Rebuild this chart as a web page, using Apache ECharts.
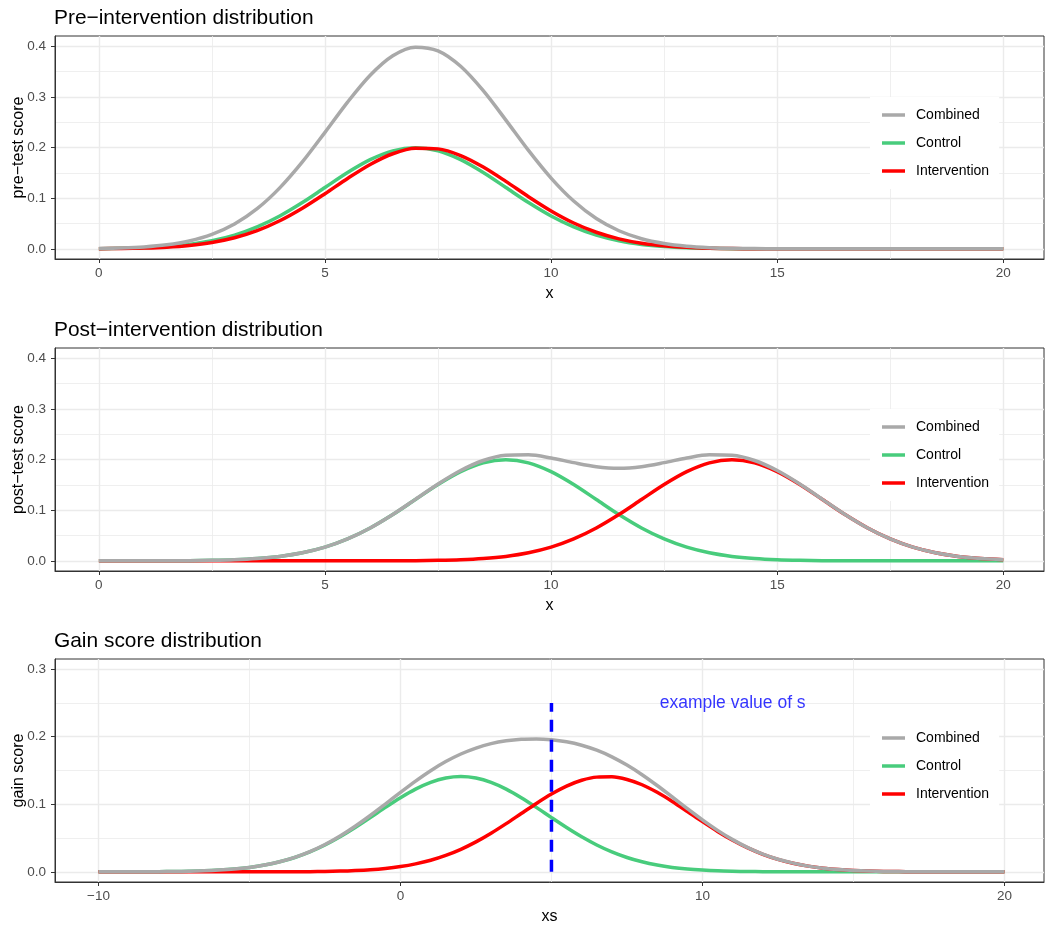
<!DOCTYPE html>
<html>
<head>
<meta charset="utf-8">
<script src="https://cdn.jsdelivr.net/npm/echarts@6/dist/echarts.min.js"></script>
<style>
html, body { margin: 0; padding: 0; background: #fff; }
#main { width: 1048px; height: 926px; }
</style>
</head>
<body>
<div id="main"></div>
<script>
// x grid of the first two panels
var xs1 = [0,0.5,1,1.5,2,2.5,3,3.5,4,4.5,5,5.5,6,6.5,7,7.5,8,8.5,9,9.5,10,10.5,11,11.5,12,12.5,13,13.5,14,14.5,15,15.5,16,16.5,17,17.5,18,18.5,19,19.5,20];
// pre-test
var preControl = [0.0004,0.0010,0.0022,0.0046,0.0088,0.0159,0.0270,0.0432,0.0648,0.0913,0.1210,0.1506,0.1760,0.1934,0.1995,0.1934,0.1760,0.1506,0.1210,0.0913,0.0648,0.0432,0.0270,0.0159,0.0088,0.0046,0.0022,0.0010,0.0004,0.0002,0,0,0,0,0,0,0,0,0,0,0];
var preIntervention = [0.0003,0.0007,0.0016,0.0034,0.0068,0.0126,0.0220,0.0360,0.0555,0.0802,0.1089,0.1390,0.1666,0.1877,0.1985,0.1973,0.1842,0.1615,0.1331,0.1030,0.0749,0.0511,0.0328,0.0198,0.0112,0.0060,0.0030,0.0014,0.0006,0.0003,0.0001,0,0,0,0,0,0,0,0,0,0];
var preCombined = [0.0007,0.0017,0.0038,0.0080,0.0156,0.0285,0.0490,0.0792,0.1203,0.1715,0.2299,0.2896,0.3426,0.3811,0.3980,0.3907,0.3602,0.3121,0.2541,0.1943,0.1397,0.0943,0.0598,0.0357,0.0200,0.0106,0.0052,0.0024,0.0010,0.0005,0.0002,0,0,0,0,0,0,0,0,0,0];
// post-test
var postControl = [0,0,0,0.0002,0.0004,0.0010,0.0022,0.0046,0.0088,0.0159,0.0270,0.0432,0.0648,0.0913,0.1210,0.1506,0.1760,0.1934,0.1995,0.1934,0.1760,0.1506,0.1210,0.0913,0.0648,0.0432,0.0270,0.0159,0.0088,0.0046,0.0022,0.0010,0.0004,0.0002,0,0,0,0,0,0,0];
var postIntervention = [0,0,0,0,0,0,0,0,0,0,0,0,0.0001,0.0002,0.0004,0.0010,0.0022,0.0046,0.0088,0.0159,0.0270,0.0432,0.0648,0.0913,0.1210,0.1506,0.1760,0.1934,0.1995,0.1934,0.1760,0.1506,0.1210,0.0913,0.0648,0.0432,0.0270,0.0159,0.0088,0.0046,0.0022];
var postCombined = [0,0,0,0.0002,0.0004,0.0010,0.0022,0.0046,0.0088,0.0159,0.0270,0.0432,0.0649,0.0915,0.1214,0.1516,0.1782,0.1980,0.2083,0.2093,0.2030,0.1938,0.1858,0.1826,0.1858,0.1938,0.2030,0.2093,0.2083,0.1980,0.1782,0.1516,0.1214,0.0915,0.0648,0.0432,0.0270,0.0159,0.0088,0.0046,0.0022];
// gain scores
var xs3 = [-10,-9.5,-9,-8.5,-8,-7.5,-7,-6.5,-6,-5.5,-5,-4.5,-4,-3.5,-3,-2.5,-2,-1.5,-1,-0.5,0,0.5,1,1.5,2,2.5,3,3.5,4,4.5,5,5.5,6,6.5,7,7.5,8,8.5,9,9.5,10,10.5,11,11.5,12,12.5,13,13.5,14,14.5,15,15.5,16,16.5,17,17.5,18,18.5,19,19.5,20];
var gainControl = [0,0,0.0001,0.0001,0.0003,0.0005,0.0009,0.0015,0.0026,0.0042,0.0066,0.0101,0.0149,0.0213,0.0296,0.0398,0.0519,0.0656,0.0803,0.0954,0.1098,0.1225,0.1325,0.1388,0.1410,0.1388,0.1325,0.1225,0.1098,0.0954,0.0803,0.0656,0.0519,0.0398,0.0296,0.0213,0.0149,0.0101,0.0066,0.0042,0.0026,0.0015,0.0009,0.0005,0.0003,0.0001,0.0001,0,0,0,0,0,0,0,0,0,0,0,0,0,0];
var gainIntervention = [0,0,0,0,0,0,0,0,0,0,0,0,0.0001,0.0001,0.0003,0.0006,0.0011,0.0019,0.0031,0.0050,0.0078,0.0118,0.0172,0.0244,0.0334,0.0444,0.0572,0.0714,0.0864,0.1013,0.1152,0.1269,0.1355,0.1402,0.1406,0.1367,0.1289,0.1177,0.1042,0.0894,0.0743,0.0599,0.0468,0.0354,0.0260,0.0185,0.0128,0.0085,0.0055,0.0035,0.0021,0.0012,0.0007,0.0004,0.0002,0.0001,0.0001,0,0,0,0];
var gainCombined = [0,0,0.0001,0.0001,0.0003,0.0005,0.0009,0.0015,0.0026,0.0042,0.0066,0.0101,0.0150,0.0214,0.0299,0.0404,0.0530,0.0675,0.0834,0.1004,0.1176,0.1343,0.1497,0.1632,0.1744,0.1832,0.1897,0.1939,0.1962,0.1967,0.1955,0.1925,0.1874,0.1800,0.1702,0.1580,0.1438,0.1278,0.1108,0.0936,0.0769,0.0614,0.0477,0.0359,0.0263,0.0186,0.0129,0.0085,0.0055,0.0035,0.0021,0.0012,0.0007,0.0004,0.0002,0.0001,0.0001,0,0,0,0];
// example value of s
var sLineX = [5, 5];
var sLineY = [0, 0.25];
var sLabelX = [11];
var sLabelY = [0.25];
var sLabelText = 'example value of s';

// ticks
var xTicks12 = [0, 5, 10, 15, 20];
var xMinor12 = [2.5, 7.5, 12.5, 17.5];
var yTicks12 = [0, 0.1, 0.2, 0.3, 0.4];
var yMinor12 = [0.05, 0.15, 0.25, 0.35];
var xTicks3 = [-10, 0, 10, 20];
var xMinor3 = [-5, 5, 15];
var yTicks3 = [0, 0.1, 0.2, 0.3];
var yMinor3 = [0.05, 0.15, 0.25];

var titles = ['Pre\u2212intervention distribution', 'Post\u2212intervention distribution', 'Gain score distribution'];
var yNames = ['pre\u2212test score', 'post\u2212test score', 'gain score'];
var xNames = ['x', 'x', 'xs'];
var groups = ['Combined', 'Control', 'Intervention'];
var colors = { Combined: '#A9A9A9', Control: '#48CC7C', Intervention: '#FF0000' };

var FONT = '"Liberation Sans", Arial, sans-serif';
var gridTops = [36, 348, 659];
var PLOT_H = 223;

function zip(xs, ys) {
    return xs.map(function (x, i) { return [x, ys[i]]; });
}

function majorX(gi, min, max, ticks, name) {
    return {
        type: 'value', gridIndex: gi, min: min, max: max, position: 'bottom',
        name: name, nameLocation: 'middle', nameGap: 27, nameMoveOverlap: false,
        nameTextStyle: { color: '#000', fontSize: 16, fontFamily: FONT },
        axisLine: { show: true, onZero: false, lineStyle: { color: '#333', width: 1 } },
        axisTick: { show: true, length: 4, customValues: ticks, lineStyle: { color: '#333', width: 1 } },
        axisLabel: {
            customValues: ticks, margin: 7, color: '#4D4D4D', fontSize: 13.5, fontFamily: FONT,
            formatter: function (v) { return String(v).replace('-', '\u2212'); }
        },
        splitLine: { show: true, lineStyle: { color: '#EBEBEB', width: 1.4 } }
    };
}
function minorX(gi, min, max, ticks) {
    return {
        type: 'value', gridIndex: gi, min: min, max: max, position: 'bottom',
        axisLine: { show: false, onZero: false },
        axisTick: { show: false, customValues: ticks },
        axisLabel: { show: false, customValues: ticks },
        splitLine: { show: true, lineStyle: { color: '#EBEBEB', width: 0.8 } }
    };
}
function majorY(gi, min, max, ticks, name) {
    return {
        type: 'value', gridIndex: gi, min: min, max: max, position: 'left',
        name: name, nameLocation: 'middle', nameGap: 28, nameMoveOverlap: false,
        nameTextStyle: { color: '#000', fontSize: 16, fontFamily: FONT },
        axisLine: { show: true, onZero: false, lineStyle: { color: '#333', width: 1 } },
        axisTick: { show: true, length: 4, customValues: ticks, lineStyle: { color: '#333', width: 1 } },
        axisLabel: {
            customValues: ticks, margin: 9, color: '#4D4D4D', fontSize: 13.5, fontFamily: FONT,
            formatter: function (v) { return v.toFixed(1); }
        },
        splitLine: { show: true, lineStyle: { color: '#EBEBEB', width: 1.4 } }
    };
}
function minorY(gi, min, max, ticks) {
    return {
        type: 'value', gridIndex: gi, min: min, max: max, position: 'left',
        axisLine: { show: false, onZero: false },
        axisTick: { show: false, customValues: ticks },
        axisLabel: { show: false, customValues: ticks },
        splitLine: { show: true, lineStyle: { color: '#EBEBEB', width: 0.8 } }
    };
}

function curve(name, axisIdx, xs, ys) {
    return {
        name: name, type: 'line', xAxisIndex: axisIdx, yAxisIndex: axisIdx,
        data: zip(xs, ys), showSymbol: false, symbol: 'none', smooth: 0.3,
        lineStyle: { color: colors[name], width: 3.5, join: 'round' },
        itemStyle: { color: colors[name] },
        z: name === 'Combined' ? 4 : 3
    };
}

var chart = echarts.init(document.getElementById('main'));
var option = {
    animation: false,
    backgroundColor: '#fff',
    title: titles.map(function (t, i) {
        return {
            text: t, left: 54, top: gridTops[i] - 28, padding: 0,
            textStyle: { color: '#000', fontSize: 20.9, fontWeight: 'normal', fontFamily: FONT }
        };
    }),
    grid: gridTops.map(function (top) {
        return {
            left: 55, right: 4, top: top, height: PLOT_H, outerBoundsMode: 'none', containLabel: false,
            show: true, borderColor: '#333', borderWidth: 1, backgroundColor: 'transparent'
        };
    }),
    legend: gridTops.map(function (top) {
        return {
            data: groups, orient: 'vertical', left: 870, top: top + 61,
            padding: [11, 10, 11, 12], backgroundColor: '#fff',
            icon: 'rect', itemWidth: 23, itemHeight: 3.5, itemGap: 14,
            selectedMode: false,
            textStyle: { color: '#000', fontSize: 14, lineHeight: 14, fontFamily: FONT, padding: [0, 0, 0, 6] }
        };
    }),
    xAxis: [
        majorX(0, -0.97, 20.9, xTicks12, xNames[0]),
        majorX(1, -0.97, 20.9, xTicks12, xNames[1]),
        majorX(2, -11.44, 21.31, xTicks3, xNames[2]),
        minorX(0, -0.97, 20.9, xMinor12),
        minorX(1, -0.97, 20.9, xMinor12),
        minorX(2, -11.44, 21.31, xMinor3)
    ],
    yAxis: [
        majorY(0, -0.02, 0.42, yTicks12, yNames[0]),
        majorY(1, -0.02, 0.42, yTicks12, yNames[1]),
        majorY(2, -0.015, 0.315, yTicks3, yNames[2]),
        minorY(0, -0.02, 0.42, yMinor12),
        minorY(1, -0.02, 0.42, yMinor12),
        minorY(2, -0.015, 0.315, yMinor3)
    ],
    series: [
        curve('Control', 0, xs1, preControl),
        curve('Intervention', 0, xs1, preIntervention),
        curve('Combined', 0, xs1, preCombined),
        curve('Control', 1, xs1, postControl),
        curve('Intervention', 1, xs1, postIntervention),
        curve('Combined', 1, xs1, postCombined),
        curve('Control', 2, xs3, gainControl),
        curve('Intervention', 2, xs3, gainIntervention),
        curve('Combined', 2, xs3, gainCombined),
        {
            name: 's', type: 'line', xAxisIndex: 2, yAxisIndex: 2,
            data: zip(sLineX, sLineY), symbol: 'none', z: 5,
            lineStyle: { color: '#0000FF', width: 3.5, type: [12, 8] }
        },
        {
            name: 'sLabel', type: 'scatter', xAxisIndex: 2, yAxisIndex: 2,
            data: zip(sLabelX, sLabelY), symbolSize: 0, z: 5,
            label: {
                show: true, position: 'inside', formatter: sLabelText,
                color: '#0000FF', fontSize: 17.5, fontFamily: FONT
            }
        }
    ]
};
chart.setOption(option);
</script>
</body>
</html>
